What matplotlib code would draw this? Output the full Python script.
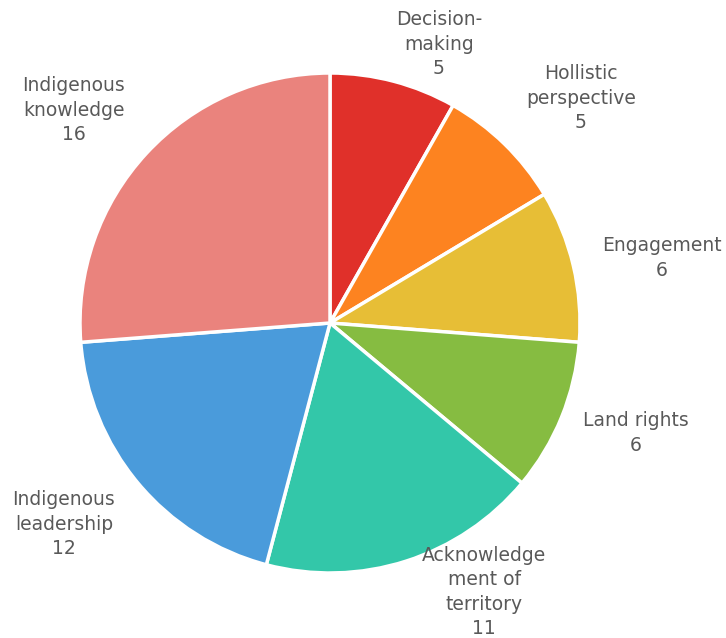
import matplotlib
matplotlib.use("Agg")
import matplotlib.pyplot as plt

categories = ["Decision-\nmaking", "Hollistic\nperspective", "Engagement", "Land rights",
              "Acknowledge\nment of\nterritory", "Indigenous\nleadership", "Indigenous\nknowledge"]
values = [5, 5, 6, 6, 11, 12, 16]
colors = ["#E0302A", "#FD8320", "#E7BE36", "#86BC41", "#33C7A9", "#4A9BDB", "#EA837D"]

# label centres in pixel coords (x, y from top)
label_pos = [(439, 44), (581, 98), (662, 258), (636, 433), (484, 592), (64, 524), (74, 110)]

W, H = 726, 638
fig = plt.figure(figsize=(W / 100, H / 100), dpi=100)
ax = fig.add_axes([0, 0, 1, 1])
ax.set_xlim(0, W)
ax.set_ylim(0, H)
ax.set_aspect("equal")
ax.axis("off")

ax.pie(values, colors=colors, startangle=90, counterclock=False,
       center=(330, H - 323), radius=250,
       wedgeprops=dict(edgecolor="white", linewidth=2.5))
ax.set_xlim(0, W)
ax.set_ylim(0, H)

for cat, val, (x, y) in zip(categories, values, label_pos):
    ax.text(x, H - y, f"{cat}\n{val}", ha="center", va="center",
            fontsize=13.5, color="#595959", linespacing=1.35, family="DejaVu Sans")

fig.savefig("out.png", dpi=100)
